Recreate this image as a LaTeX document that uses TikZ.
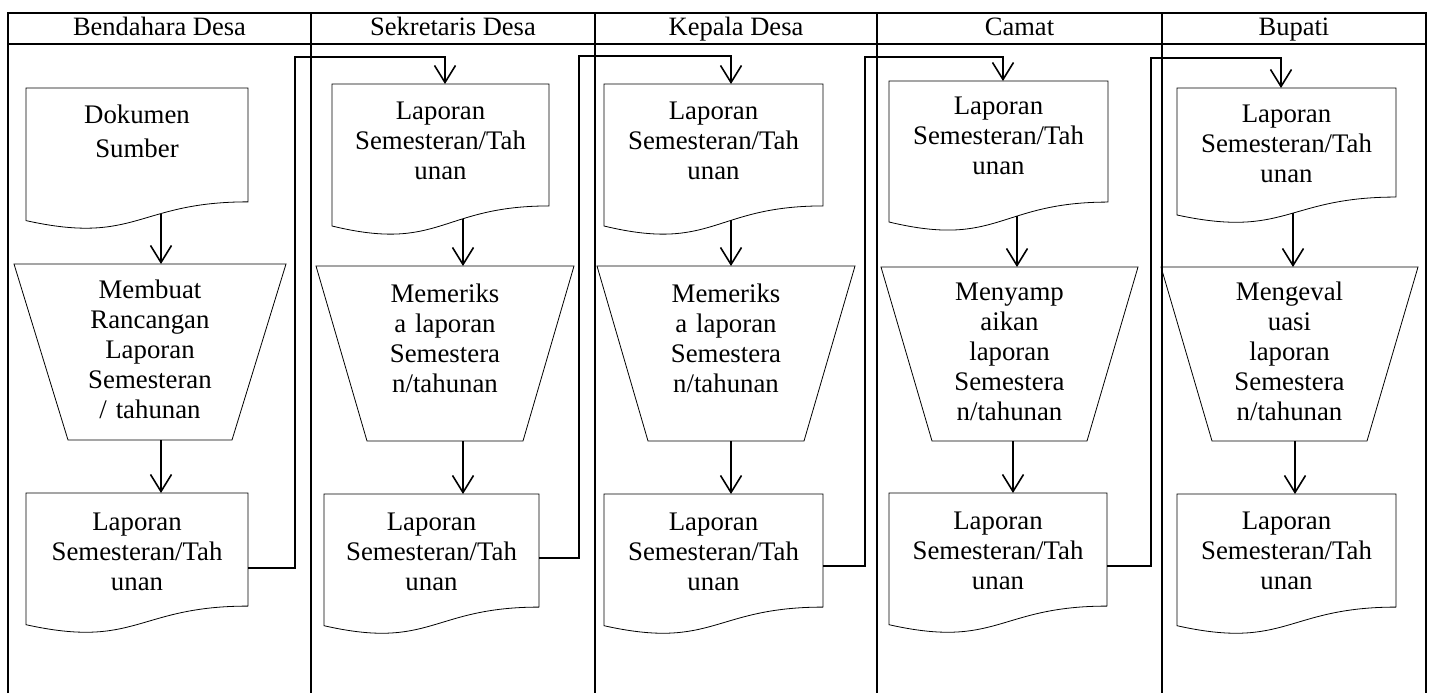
\documentclass[tikz,border=0pt]{standalone}
\usepackage{fontspec}
\setmainfont{Liberation Serif}
\usetikzlibrary{arrows.meta,calc}
\newcommand\docoutline[1]{\draw[shapeline] (#1.north west) -- (#1.north east) -- ($(#1.north east)!0.8587!(#1.south east)$) .. controls ($(#1.north)!0.8587!(#1.south)$) and ($(#1.north)!1.1863!(#1.south)$) .. (#1.south west) -- cycle;}
\newcommand\trapoutline[2]{\draw[shapeline] (#1.north west) -- (#1.north east) -- ([xshift=-#2pt]#1.south east) -- ([xshift=#2pt]#1.south west) -- cycle;}
\begin{document}
\begin{tikzpicture}[x=1pt,y=-1pt,
  shapeline/.style={line width=0.8pt},
  grid/.style={line width=1.6pt},
  arr/.style={line width=1.6pt,-{Straight Barb[length=17pt,width=21pt]}},
  txt/.style={font=\fontsize{26.8}{30}\selectfont, align=center, inner sep=0pt, outer sep=0pt},
  doc/.style={txt, anchor=north west},
  trap/.style={txt, anchor=north},
  head/.style={font=\fontsize{26.5}{30}\selectfont, anchor=base, inner sep=0pt}]
\useasboundingbox (0,0) rectangle (1434,693);

% header
\node[head] (h1) at (159.5,36) {Bendahara Desa};
\node[head] (h2) at (453,36) {Sekretaris Desa};
\node[head] (h3) at (736,36) {Kepala Desa};
\node[head] (h4) at (1019.5,36) {Camat};
\node[head] (h5) at (1294,36) {Bupati};

% column 1
\node[doc, text width=222pt, text height=35pt, text depth=97.6pt] (d1a) at (26,88) {Dokumen\\[4pt]Sumber};
\node[trap, text width=272pt, text height=34pt, text depth=142pt] (t1) at (150,264) {Membuat\\Rancangan\\Laporan\\Semesteran\\/ tahunan};
\node[doc, text width=222pt, text height=37pt, text depth=94.7pt] (d1b) at (26,493) {Laporan\\Semesteran/Tah\\unan};

% column 2
\node[doc, text width=217pt, text height=35pt, text depth=107pt] (d2a) at (332,84) {Laporan\\Semesteran/Tah\\unan};
\node[trap, text width=258pt, text height=36pt, text depth=139pt] (t2) at (445,266) {Memeriks\\a laporan\\Semestera\\n/tahunan};
\node[doc, text width=215pt, text height=36pt, text depth=95.7pt] (d2b) at (324,494) {Laporan\\Semesteran/Tah\\unan};

% column 3
\node[doc, text width=219pt, text height=35pt, text depth=107pt] (d3a) at (604,84) {Laporan\\Semesteran/Tah\\unan};
\node[trap, text width=258pt, text height=36pt, text depth=139pt] (t3) at (726,266) {Memeriks\\a laporan\\Semestera\\n/tahunan};
\node[doc, text width=219pt, text height=36pt, text depth=95.7pt] (d3b) at (604,494) {Laporan\\Semesteran/Tah\\unan};

% column 4
\node[doc, text width=219pt, text height=33pt, text depth=108pt] (d4a) at (889,81) {Laporan\\Semesteran/Tah\\unan};
\node[trap, text width=257pt, text height=33pt, text depth=141pt] (t4) at (1009.5,267) {Menyamp\\aikan\\laporan\\Semestera\\n/tahunan};
\node[doc, text width=218pt, text height=36pt, text depth=95.7pt] (d4b) at (889,493) {Laporan\\Semesteran/Tah\\unan};

% column 5
\node[doc, text width=219pt, text height=34pt, text depth=93pt] (d5a) at (1177,88) {Laporan\\Semesteran/Tah\\unan};
\node[trap, text width=257pt, text height=33pt, text depth=141pt] (t5) at (1289.5,267) {Mengeval\\uasi\\laporan\\Semestera\\n/tahunan};
\node[doc, text width=219pt, text height=35pt, text depth=96.7pt] (d5b) at (1177,494) {Laporan\\Semesteran/Tah\\unan};

% outlines
\docoutline{d1a}\docoutline{d1b}\docoutline{d2a}\docoutline{d2b}\docoutline{d3a}
\docoutline{d3b}\docoutline{d4a}\docoutline{d4b}\docoutline{d5a}\docoutline{d5b}
\trapoutline{t1}{54}\trapoutline{t2}{51}\trapoutline{t3}{51}\trapoutline{t4}{51}\trapoutline{t5}{51}

% table
\draw[grid] (8,693) -- (8,13) -- (1426,13) -- (1426,693);
\draw[grid] (8,44) -- (1426,44);
\foreach \xx in {311,595,877,1162} \draw[grid] (\xx,13) -- (\xx,693);

% arrows inside columns
\draw[arr] ([xshift=24pt,yshift=7pt]d1a.south) -- ([xshift=11pt]t1.north);
\draw[arr] ([xshift=11pt]t1.south) -- ([xshift=24pt]d1b.north);
\draw[arr] ([xshift=22.5pt,yshift=7.5pt]d2a.south) -- ([xshift=18pt]t2.north);
\draw[arr] ([xshift=18pt]t2.south) -- ([xshift=31.5pt]d2b.north);
\draw[arr] ([xshift=17.5pt,yshift=5.7pt]d3a.south) -- ([xshift=5pt]t3.north);
\draw[arr] ([xshift=5pt]t3.south) -- ([xshift=17.5pt]d3b.north);
\draw[arr] ([xshift=18.5pt,yshift=5.7pt]d4a.south) -- ([xshift=7.5pt]t4.north);
\draw[arr] ([xshift=3.5pt]t4.south) -- ([xshift=15pt]d4b.north);
\draw[arr] ([xshift=6.5pt,yshift=2pt]d5a.south) -- ([xshift=3.5pt]t5.north);
\draw[arr] ([xshift=5.5pt]t5.south) -- ([xshift=8.5pt]d5b.north);

% connectors between columns
\coordinate (r1) at (295,57);
\coordinate (r2) at (579,56);
\coordinate (r3) at (865,57);
\coordinate (r4) at (1151,58);
\draw[arr] ([yshift=-9pt]d1b.east) -| (r1) -| ([xshift=4.5pt]d2a.north);
\draw[arr] ([yshift=2pt]d2b.east) -| (r2) -| ([xshift=17.5pt]d3a.north);
\draw[arr] ([yshift=-6pt]d3b.east) -| (r3) -| ([xshift=4.5pt]d4a.north);
\draw[arr] ([yshift=-7pt]d4b.east) -| (r4) -| ([xshift=-5.5pt]d5a.north);
\end{tikzpicture}
\end{document}
